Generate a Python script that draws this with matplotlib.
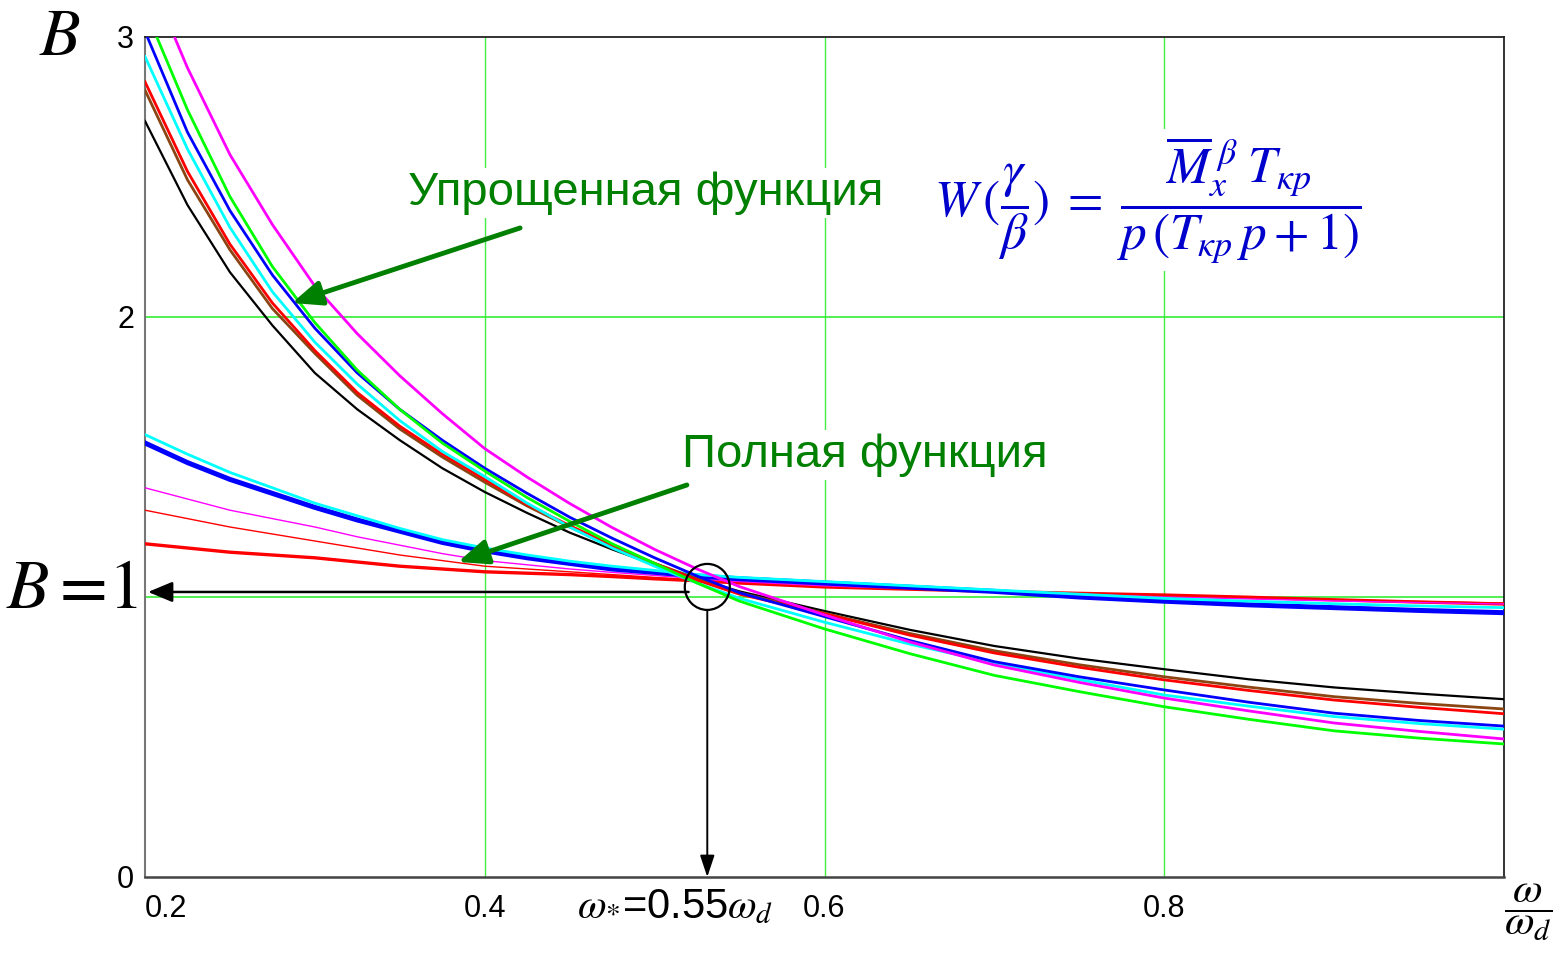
import matplotlib
matplotlib.use("Agg")
import matplotlib.pyplot as plt
from matplotlib.patches import Ellipse

plt.rcParams['font.family'] = ['Liberation Sans', 'DejaVu Sans']
plt.rcParams['mathtext.fontset'] = 'stix'

# ---------------- data ----------------
x_vals = [0.2, 0.225, 0.25, 0.275, 0.3, 0.325, 0.35, 0.375, 0.4, 0.425, 0.45, 0.475,
          0.5, 0.525, 0.55, 0.6, 0.65, 0.7, 0.75, 0.8, 0.85, 0.9, 0.95, 1.0]

# simplified function curves (steep)
simp_black   = [2.70, 2.40, 2.16, 1.97, 1.80, 1.67, 1.56, 1.46, 1.375, 1.30, 1.23, 1.17,
                1.115, 1.065, 1.02, 0.950, 0.883, 0.825, 0.780, 0.742, 0.706, 0.677, 0.655, 0.635]
simp_brown   = [2.81, 2.49, 2.24, 2.03, 1.87, 1.72, 1.60, 1.50, 1.41, 1.325, 1.25, 1.18,
                1.12, 1.065, 1.015, 0.942, 0.870, 0.808, 0.758, 0.715, 0.678, 0.644, 0.620, 0.600]
simp_red     = [2.84, 2.52, 2.26, 2.05, 1.88, 1.73, 1.61, 1.51, 1.42, 1.33, 1.255, 1.185,
                1.12, 1.06, 1.01, 0.940, 0.864, 0.800, 0.749, 0.704, 0.666, 0.632, 0.606, 0.583]
simp_cyan    = [2.93, 2.60, 2.32, 2.09, 1.91, 1.76, 1.63, 1.52, 1.43, 1.335, 1.25, 1.175,
                1.11, 1.05, 0.995, 0.910, 0.832, 0.764, 0.705, 0.650, 0.610, 0.573, 0.548, 0.528]
simp_blue    = [3.02, 2.66, 2.38, 2.15, 1.96, 1.80, 1.67, 1.56, 1.46, 1.37, 1.285, 1.21,
                1.14, 1.075, 1.015, 0.930, 0.845, 0.769, 0.715, 0.668, 0.624, 0.585, 0.559, 0.539]
simp_green   = [3.10, 2.74, 2.43, 2.18, 1.98, 1.81, 1.67, 1.55, 1.45, 1.355, 1.27, 1.19,
                1.12, 1.05, 0.985, 0.886, 0.798, 0.720, 0.662, 0.608, 0.563, 0.522, 0.496, 0.475]
simp_magenta = [3.25, 2.89, 2.58, 2.33, 2.11, 1.94, 1.79, 1.655, 1.53, 1.428, 1.334, 1.248,
                1.17, 1.10, 1.037, 0.936, 0.840, 0.757, 0.695, 0.639, 0.593, 0.550, 0.520, 0.493]

# full function curves (flat)
full_blue      = [1.55, 1.48, 1.42, 1.37, 1.32, 1.275, 1.235, 1.195, 1.165, 1.14, 1.12, 1.10,
                  1.088, 1.075, 1.065, 1.05, 1.035, 1.02, 1.00, 0.985, 0.972, 0.962, 0.952, 0.944]
full_cyan      = [1.58, 1.51, 1.445, 1.39, 1.335, 1.29, 1.245, 1.205, 1.175, 1.15, 1.128, 1.11,
                  1.095, 1.08, 1.07, 1.055, 1.04, 1.025, 1.01, 0.995, 0.985, 0.976, 0.968, 0.962]
full_magenta   = [1.39, 1.35, 1.31, 1.28, 1.25, 1.215, 1.185, 1.155, 1.13, 1.115, 1.10, 1.088,
                  1.077, 1.065, 1.055, 1.04, 1.03, 1.02, 1.01, 1.00, 0.993, 0.986, 0.98, 0.975]
full_red_thin  = [1.31, 1.28, 1.25, 1.225, 1.20, 1.175, 1.15, 1.13, 1.11, 1.10, 1.09, 1.08,
                  1.07, 1.06, 1.05, 1.04, 1.03, 1.02, 1.012, 1.005, 0.997, 0.99, 0.984, 0.978]
full_red_thick = [1.19, 1.175, 1.16, 1.15, 1.14, 1.125, 1.11, 1.10, 1.09, 1.085, 1.08, 1.073,
                  1.065, 1.058, 1.05, 1.036, 1.028, 1.02, 1.013, 1.007, 0.999, 0.99, 0.982, 0.975]

x_ticks = [0.2, 0.4, 0.6, 0.8]
x_tick_labels = ["0.2", "0.4", "0.6", "0.8"]
y_ticks = [0, 2, 3]
y_tick_labels = ["0", "2", "3"]
grid_x = [0.4, 0.6, 0.8]
grid_y = [1, 2]

omega_star = 0.531
b_cross = 1.036
b_arrow = 1.018

# ---------------- figure ----------------
fig = plt.figure(figsize=(15.55, 9.6), dpi=100)
ax = fig.add_axes([145/1555, 1 - 877/960, (1504 - 145)/1555, (877 - 37)/960])
ax.set_xlim(0.2, 1.0)
ax.set_ylim(0, 3)

for gx in grid_x:
    ax.axvline(gx, color='#44ee44', lw=1.0, zorder=0)
for gy in grid_y:
    ax.axhline(gy, color='#33ee33', lw=1.2, zorder=0)

# full function
ax.plot(x_vals, full_red_thick, color='#ff0000', lw=2.4, zorder=3)
ax.plot(x_vals, full_red_thin, color='#ff0000', lw=1.0, zorder=3)
ax.plot(x_vals, full_magenta, color='#ff00ff', lw=1.0, zorder=3)
ax.plot(x_vals, full_blue, color='#0000ff', lw=3.6, zorder=3)
ax.plot(x_vals, full_cyan, color='#00ffff', lw=2.0, zorder=3)

# simplified function
ax.plot(x_vals, simp_black, color='#000000', lw=1.6, zorder=4)
ax.plot(x_vals, simp_brown, color='#8b4513', lw=2.0, zorder=4)
ax.plot(x_vals, simp_red, color='#ff0000', lw=2.0, zorder=4)
ax.plot(x_vals, simp_cyan, color='#00ffff', lw=2.0, zorder=4)
ax.plot(x_vals, simp_blue, color='#0000ff', lw=2.0, zorder=4)
ax.plot(x_vals, simp_green, color='#00ff00', lw=2.0, zorder=4)
ax.plot(x_vals, simp_magenta, color='#ff00ff', lw=2.0, zorder=4)

# ticks
ax.set_xticks(x_ticks)
ax.set_xticklabels(x_tick_labels)
ax.get_xticklabels()[0].set_horizontalalignment('left')
ax.set_yticks(y_ticks)
ax.set_yticklabels(y_tick_labels)
ax.tick_params(axis='both', length=0, labelsize=22)
ax.tick_params(axis='x', pad=12)
ax.tick_params(axis='y', pad=8)

for s in ['top', 'right']:
    ax.spines[s].set_color('#222222')
    ax.spines[s].set_linewidth(1.3)
ax.spines['left'].set_color('#777777')
ax.spines['left'].set_linewidth(1.5)
ax.spines['bottom'].set_color('#444444')
ax.spines['bottom'].set_linewidth(1.8)

# crossing circle and arrows
ax.add_patch(Ellipse((omega_star, b_cross), 45/1698.75, 46/280, fill=False,
                     ec='black', lw=1.6, zorder=6))
ax.annotate('', xy=(0.2018, b_arrow), xytext=(omega_star - 0.011, b_arrow),
            arrowprops=dict(arrowstyle='-|>,head_length=0.6,head_width=0.25', color='black',
                            lw=1.8, mutation_scale=25, shrinkA=0, shrinkB=0), zorder=6)
ax.annotate('', xy=(omega_star, 0.0), xytext=(omega_star, b_cross - 0.082),
            arrowprops=dict(arrowstyle='-|>,head_length=0.6,head_width=0.2', color='black',
                            lw=1.4, mutation_scale=22, shrinkA=0, shrinkB=0), zorder=6)

# green labels and arrows
green = '#008000'
ax.text(0.495, 2.443, 'Упрощенная функция', color=green, fontsize=34,
        ha='center', va='center', zorder=7,
        bbox=dict(fc='white', ec='none', pad=2))
ax.text(0.624, 1.507, 'Полная функция', color=green, fontsize=34,
        ha='center', va='center', zorder=7,
        bbox=dict(fc='white', ec='none', pad=2))
ax.annotate('', xy=(0.2865, 2.05), xytext=(0.4208, 2.318),
            arrowprops=dict(arrowstyle='-|>,head_length=0.6,head_width=0.25', color=green,
                            lw=3.5, mutation_scale=30, shrinkA=0, shrinkB=0), zorder=7)
ax.annotate('', xy=(0.3843, 1.125), xytext=(0.519, 1.40),
            arrowprops=dict(arrowstyle='-|>,head_length=0.6,head_width=0.25', color=green,
                            lw=3.5, mutation_scale=30, shrinkA=0, shrinkB=0), zorder=7)

# formula
ax.text(0.790, 2.418,
        r'$W\,(\dfrac{\gamma}{\beta})\;=\;\dfrac{\overline{M}_{x}^{\;\beta}\;T_{\kappa p}}{p\,(T_{\kappa p}\,p+1)}$',
        color='#0000cc', fontsize=37, ha='center', va='center', zorder=7,
        bbox=dict(fc='white', ec='none', pad=4))

# outside labels
fig.text(60/1555, 1 - 38/960, r'$B$', fontsize=48, ha='center', va='center')
fig.text(72/1555, 1 - 590/960, r'$B=\!1$', fontsize=50, ha='center', va='center')
fig.text(675/1555, 1 - 907/960, r'$\omega_{*}$=0.55$\omega_{d}$', fontsize=30,
         ha='center', va='center')
fig.text(1528/1555, 1 - 912/960, r'$\dfrac{\omega}{\omega_d}$', fontsize=31,
         ha='center', va='center')

fig.savefig('out.png', dpi=100, facecolor='white')
